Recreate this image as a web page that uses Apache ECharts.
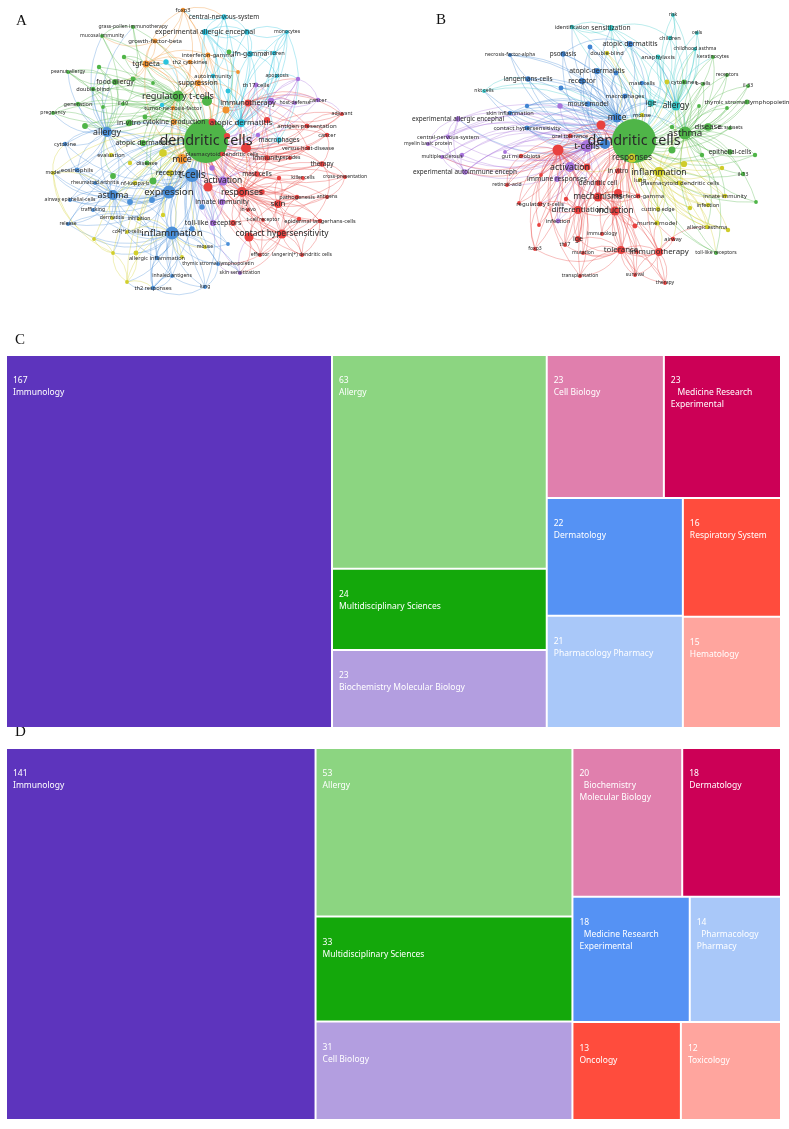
<!DOCTYPE html>
<html><head><meta charset="utf-8">
<script src="https://cdn.jsdelivr.net/npm/echarts@6/dist/echarts.min.js"></script>
<style>html,body{margin:0;padding:0;background:#fff}#c{width:789px;height:1129px}</style>
</head><body><div id="c"></div>
<script>
// ---------- Network A (keyword co-occurrence map) ----------
const A_COLORS = {r:'#e8413f', g:'#4fb548', b:'#4a8fd8', y:'#d2cf2c', p:'#a66fdc', c:'#2cc3dd', o:'#f0912f'};
// [id, label, mapX, mapY, occurrences, cluster]
const A_NODES = [
['dc','dendritic cells',206,141,400,'g'],['rt','regulatory t-cells',178,96,25,'g'],['tc','t-cells',192,175,40,'b'],
['ex','expression',169,192,35,'b'],['inf','inflammation',172,233,35,'b'],['as','asthma',113,195,21,'b'],
['al','allergy',107,132,21,'b'],['mi','mice',182,159,21,'o'],['re','responses',242,192,21,'r'],
['imth','immunotherapy',248,103,10,'r'],['ad','atopic dermatitis',241,123,13,'c'],['ac','activation',223,181,17,'p'],
['ch','contact hypersensitivity',282,234,17,'r'],['r2','',249,237,17,'r'],['imm','immunity',267,158,6,'r'],
['sk','skin',278,204,13,'r'],['tgf','tgf-beta',146,64,10,'o'],['fox','foxp3',183,10,4,'o'],
['gfb','growth-factor-beta',155,41,5,'o'],['ifn','interferon-gamma',208,55,5,'o'],['th2c','th2 cytokines',190,62,4,'o'],
['sup','suppression',198,83,8,'o'],['cp','cytokine production',174,122,7,'o'],['tnf','tumor-necrosis-factor',173,108,4,'o'],
['o1','',226,110,10,'o'],['o2','',238,72,3,'o'],['cns','central-nervous-system',224,17,6,'c'],
['eae','experimental allergic encephal',205,32,8,'c'],['c1','',247,32,6,'c'],['mono','monocytes',287,32,3,'c'],
['ifng','ifn-gamma',250,54,7,'c'],['chil','children',274,53,4,'c'],['auto','autoimmunity',213,76,4,'c'],
['apo','apoptosis',277,76,3,'c'],['c2','',166,62,6,'c'],['c3','',162,105,4,'c'],['c4','',228,91,5,'c'],
['mac','macrophages',279,140,6,'c'],['p1','',298,79,4,'p'],['th17','th17 cells',256,85,5,'p'],
['p2','',271,101,9,'p'],['hd','host-defense',295,103,3,'p'],['canp','cancer',318,100,4,'p'],
['adj','adjuvant',342,114,3,'r'],['ap','antigen presentation',307,126,5,'r'],['can','cancer',327,135,4,'r'],
['gvhd','versus-host-disease',308,148,4,'r'],['pdc','plasmacytoid dendritic cells',222,154,4,'r'],['r1','',246,148,21,'r'],
['pep','peptides',290,158,3,'r'],['thr','therapy',322,164,6,'r'],['mast','mast cells',257,174,6,'r'],
['r3','',279,178,4,'r'],['nk','killer cells',303,178,3,'r'],['cpr','cross-presentation',345,177,3,'r'],
['p3','',212,168,6,'p'],['r4','',208,187,17,'r'],['r5','',262,192,6,'r'],
['inn','innate immunity',222,202,8,'p'],['path','pathogenesis',297,197,4,'r'],['antg','antigens',327,197,3,'r'],
['b1','',202,207,6,'b'],['iv','in-vivo',248,210,3,'r'],['tcr','t-cell receptor',263,220,3,'r'],
['tlr','toll-like receptors',213,223,8,'p'],['r6','',233,223,7,'r'],['elc','epidermal langerhans-cells',320,221,4,'r'],
['r7','',299,219,4,'r'],['b2','',192,229,6,'b'],['mouse','mouse',205,247,3,'y'],
['b3','',228,244,3,'b'],['eff','effector',260,255,3,'r'],['ldc','langerin(+) dendritic cells',302,255,3,'r'],
['tslp','thymic stromal lymphopoietin',218,264,3,'b'],['ss','skin sensitization',240,273,3,'p'],['lung','lung',205,287,3,'b'],
['th2r','th2 responses',153,288,4,'b'],['inh','inhaled antigens',172,276,3,'b'],['y1','',127,282,3,'y'],
['ai','allergic inflammation',157,258,4,'b'],['y2','',182,257,3,'y'],['y3','',136,253,5,'y'],
['y4','',113,253,3,'y'],['y5','',94,239,3,'y'],['cd4','cd4(+) t-cells',127,232,3,'y'],
['inhb','inhibition',139,219,3,'y'],['derm','dermatitis',112,218,3,'y'],['rel','release',68,224,3,'b'],
['traf','trafficking',93,210,3,'b'],['aec','airway epithelial-cells',70,200,3,'b'],['b4','',130,202,7,'b'],
['b5','',152,200,7,'b'],['y6','',163,215,4,'y'],['ra','rheumatoid arthritis',95,183,3,'b'],
['nfkb','nf-kappa-b',135,183,4,'y'],['g1','',153,181,10,'g'],['rec','receptor',170,173,9,'y'],
['g2','',113,176,7,'g'],['eos','eosinophils',77,170,5,'b'],['model','model',53,173,3,'y'],
['dis','disease',147,163,5,'g'],['y7','',130,163,4,'y'],['eval','evaluation',111,155,4,'y'],
['y8','',163,153,12,'y'],['cyt','cytokine',65,144,4,'b'],['adg','atopic dermatitis',143,143,8,'g'],
['ivv','in-vitro',129,123,9,'g'],['g3','',85,126,7,'g'],['g4','',145,117,5,'g'],
['preg','pregnancy',53,113,3,'g'],['gen','generation',78,104,4,'g'],['g5','',103,107,3,'g'],
['il10','il-10',123,104,3,'g'],['db','double-blind',93,89,4,'g'],['fa','food allergy',115,82,7,'g'],
['g6','',133,79,5,'g'],['g7','',153,83,3,'g'],['pa','peanut allergy',68,72,3,'g'],
['g8','',99,67,4,'g'],['g9','',124,57,4,'g'],['mim','mucosal immunity',102,36,3,'g'],
['gpi','grass-pollen immunotherapy',133,27,3,'g'],['g10','',207,101,21,'g'],['g11','',229,52,5,'g'],
['r8','',212,122,10,'r'],['r9','',267,120,8,'r'],['r10','',227,136,8,'r'],['p4','',258,135,4,'p']
];
const A_LINKS = [
'rt:dc,tgf,sup,fa,al,adg,ivv,g10,il10,g4,cp,tc,ex,g1,db,gen,pa,preg,g3,g8,g9,mim,gpi,as','tc:dc,ex,inf,as,al,ac,re,mi,b1,b2,b4,b5,tlr,rec,g1,eos,cyt,tslp,lung,aec,rel,traf,ai,th2r',
'ex:dc,inf,as,al,tc,mi,rec,nfkb,b4,b5,g1,y8,ra,eos,model,derm,cd4','inf:dc,tc,ex,as,ai,th2r,inh,lung,tslp,b2,b3,derm,cd4,inhb,rel,traf,y3,y1,y4,y5,ss,mouse',
'as:dc,al,tc,ex,inf,eos,aec,traf,rel,cyt,ra,model,g2,b4,ai,y4,y5,derm','al:dc,as,tc,ex,fa,pa,db,g3,cyt,eos,g8,adg,preg,mim,gpi,gen,g5,il10,model',
'mi:dc,tc,ex,rt,tgf,sup,cp,o1,y8,rec,re,ac','re:dc,ac,sk,ch,r2,imm,mast,r5,path,iv,tcr,r4,r6,inn,thr,pdc,elc,antg,cpr,nk,eff,ldc,gvhd',
'imth:dc,r1,ad,imm,p2,hd,ap,adj,r9,sup,g10,o1,canp,p1,th17,gvhd','ad:dc,imth,c4,mac,auto,ifng,chil,apo,c1,r1,mono,eae,cns',
'ac:dc,tc,re,inn,tlr,p3,r4,p4,mast,p2,th17,p1','ch:dc,sk,r2,elc,ldc,eff,r7,path,antg,iv,tcr,re,ss,tslp','r2:dc,ch,sk,r6,eff,ss,re',
'imm:dc,r1,re,gvhd,pep,thr,r9','sk:dc,ch,r2,elc,path,re,r3,nk','tgf:dc,rt,fox,gfb,th2c,sup,g9,g6,fa,c2,ifn',
'fox:dc,tgf,gfb,rt,sup,cns','gfb:dc,tgf,rt,mim','ifn:dc,sup,th2c,o2,rt','th2c:dc,tgf,rt','sup:dc,rt,tgf,cp,o1,imth',
'cp:dc,rt,mi,tnf','tnf:dc,rt','o1:dc,imth,sup,re','o2:dc,ifn','cns:dc,eae,fox,c1,auto','eae:dc,cns,c1,ifng,auto,c4,ad',
'c1:dc,eae,mono,ifng','mono:dc,c1,chil,ad,mac','ifng:dc,ad,chil,eae,apo','chil:dc,ad,mono,apo','auto:dc,ad,eae',
'apo:dc,p1,ad','c2:dc,tgf,rt','c3:dc,rt','c4:dc,ad','mac:dc,ad,mono','p1:dc,p2,ac,canp','th17:dc,ac,p2',
'p2:dc,ac,imth,hd,canp,p1','hd:dc,p2','canp:dc,p2,adj','adj:dc,imth,ap','ap:dc,imth,r1,adj,can','can:dc,r1,thr',
'gvhd:dc,r1,imm','pdc:dc,r1,re','r1:dc,imth,re,imm,ap,can,thr,adj,mast','pep:dc,imm','thr:dc,r1,re,cpr,antg',
'mast:dc,re,r1','r3:dc,re,sk','nk:dc,re','cpr:dc,thr,antg,re','p3:dc,ac','r4:dc,re,tc,ac','r5:dc,re','inn:dc,ac,tlr',
'path:dc,sk,re','antg:dc,re,ch','b1:dc,tc','iv:dc,re','tcr:dc,re','tlr:dc,ac,inn,tc','r6:dc,re,ch','elc:dc,ch,sk,ldc',
'r7:dc,ch','b2:dc,inf,tc','mouse:dc,inf','b3:dc,inf','eff:dc,ch,r2','ldc:dc,ch,elc','tslp:dc,inf,ss,lung','ss:dc,tslp,r2',
'lung:dc,inf,th2r,ai','th2r:dc,inf,ai,inh,y1','inh:dc,inf,th2r','y1:dc,inf,th2r,y4','ai:dc,inf,as','y2:dc,inf','y3:dc,inf,y1',
'y4:dc,y1,y5,model','y5:dc,model,y4','cd4:dc,inf','inhb:dc,inf','derm:dc,as','rel:dc,as,inf','traf:dc,as','aec:dc,as',
'b4:dc,as','b5:dc,ex','y6:dc,ex','ra:dc,as','nfkb:dc,ex','g1:dc,rt','rec:dc,ex','g2:dc,al','eos:dc,as,al','model:dc,as,cyt',
'dis:dc,rt','y7:dc','eval:dc,al','y8:dc,mi','cyt:dc,al','adg:dc,al,rt','ivv:dc,rt','g3:dc,al','g4:dc,rt','preg:dc,al,gen',
'gen:dc,rt','g5:dc','il10:dc,rt','db:dc,fa,al','fa:dc,al,pa,rt','g6:dc,rt','g7:dc','pa:dc,fa,al','g8:dc,al','g9:dc,tgf',
'mim:dc,al,gpi','gpi:dc,al','g10:dc,rt','g11:dc','r8:dc','r9:dc','r10:dc','p4:dc'
];

// ---------- Network B ----------
const B_COLORS = {r:'#e8413f', g:'#4fb548', b:'#3f84d2', y:'#cfcc2a', p:'#a874dc', c:'#36c6c6'};
const B_NODES = [
['dc','dendritic cells',634,141,400,'g'],['tc','t-cells',587,146,30,'p'],['r1','',558,150,25,'r'],
['mice','mice',617,118,17,'b'],['tb','',605,144,21,'b'],['r2','',601,125,17,'r'],
['as','asthma',685,133,35,'g'],['al','allergy',676,106,17,'c'],['ige','ige',651,103,10,'c'],
['resp','responses',632,158,17,'y'],['infl','inflammation',659,172,21,'y'],['act','activation',570,167,21,'p'],
['r3','',587,167,10,'r'],['mech','mechanisms',598,197,17,'r'],['ind','induction',615,211,17,'r'],
['r4','',618,193,13,'r'],['diff','differentiation',578,210,13,'r'],['tol','tolerance',621,250,13,'r'],
['imth','immunotherapy',659,252,13,'r'],['dcr','dendritic cell',598,183,6,'r'],['iv','in vitro',618,171,6,'r'],
['ifng','interferon-gamma',638,196,5,'r'],['pdc','plasmacytoid dendritic cells',680,183,5,'y'],['lung','lung',640,180,4,'y'],
['y1','',684,164,8,'y'],['y2','',722,168,4,'y'],['ii','innate immunity',725,196,4,'y'],
['infc','infection',708,205,4,'y'],['ce','cutting edge',658,209,4,'y'],['y3','',690,208,4,'y'],
['mm','murine model',657,223,5,'y'],['aa','allergic asthma',707,227,4,'y'],['y4','',728,230,4,'y'],
['r5','',635,226,5,'r'],['imnl','immunology',602,234,3,'r'],['airw','airway',673,239,4,'r'],
['r6','',637,252,3,'r'],['tlr','toll-like receptors',716,253,3,'g'],['surv','survival',635,275,3,'r'],
['ther','therapy',665,283,3,'r'],['tx','transplantation',580,276,3,'r'],['mut','mutation',583,253,3,'r'],
['th17','th17',565,245,3,'r'],['fox','foxp3',535,249,3,'r'],['igr','ige',578,239,8,'r'],
['r7','',539,225,3,'r'],['infp','infection',558,221,5,'p'],['treg','regulatory t-cells',540,204,5,'r'],
['r8','',519,203,3,'r'],['r9','',566,199,4,'r'],['ra','retinoic-acid',507,185,3,'r'],
['imr','immune responses',557,179,7,'p'],['r10','',541,175,3,'r'],['eaen','experimental autoimmune enceph',465,172,6,'p'],
['gut','gut microbiota',521,156,4,'r'],['p1','',505,152,3,'p'],['ms','multiple sclerosis',442,157,3,'p'],
['p2','',462,155,4,'p'],['mbp','myelin basic protein',428,144,3,'p'],['cns','central-nervous-system',448,137,4,'p'],
['eae','experimental allergic encephal',458,119,6,'p'],['ot','oral tolerance',570,136,4,'r'],['chs','contact hypersensitivity',527,128,5,'b'],
['si','skin inflammation',510,113,4,'b'],['b1','',527,106,4,'b'],['p3','',560,106,6,'p'],
['mmod','mouse model',588,104,6,'b'],['nkt','nkt cells',484,91,3,'c'],['b2','',561,88,5,'b'],
['lc','langerhans-cells',528,79,6,'b'],['rec','receptor',582,81,8,'b'],['ps','psoriasis',563,54,6,'b'],
['tnfa','necrosis-factor-alpha',510,55,3,'b'],['id','identification',572,27,4,'c'],['sens','sensitization',611,28,7,'c'],
['risk','risk',673,15,3,'c'],['cells','cells',697,33,3,'c'],['child','children',670,38,4,'c'],
['b3','',590,47,5,'b'],['adb','atopic dermatitis',630,44,8,'b'],['cha','childhood asthma',695,49,3,'c'],
['db','double-blind',607,53,4,'y'],['ana','anaphylaxis',658,57,5,'c'],['ker','keratinocytes',713,57,3,'g'],
['ad2','atopic-dermatitis',597,71,8,'b'],['b4','',616,73,5,'b'],['mast','mast cells',642,83,4,'b'],
['y5','',667,82,5,'y'],['cyt','cytokines',684,82,5,'g'],['bc','b-cells',703,84,3,'g'],
['recs','receptors',727,75,3,'g'],['il33','il-33',748,86,3,'g'],['mac','macrophages',625,96,5,'b'],
['tslp','thymic stromal lymphopoietin',747,102,5,'g'],['g1','',699,106,3,'g'],['g2','',727,108,3,'g'],
['mouse','mouse',642,115,4,'y'],['g3','',672,127,4,'g'],['dis','disease',708,127,12,'g'],
['dcs','dc subsets',730,128,3,'g'],['g4','',672,150,10,'g'],['epi','epithelial-cells',730,152,6,'g'],
['g5','',755,155,4,'g'],['g6','',702,155,4,'g'],['il13','il-13',743,174,4,'g'],['g7','',756,202,3,'g']
];
const B_LINKS = [
'tc:dc,act,r1,r3,imr,mech,diff,eaen,eae,cns,mbp,ms,p1,p2,infp,p3,chs,tb,mice,gut,ra,treg','r1:dc,tc,act,r3,mech,diff,treg,ra,gut,ot,r8,r10,th17,fox,r7,ind,tol,tx,mut,eaen,ms,igr,surv',
'mice:dc,tb,r2,as,al,ige,mmod,rec,ad2,mac,lc,chs,si,b1,b2,b4,ps,adb,nkt,tnfa,sens,id,b3,db','tb:dc,mice,tc,mmod,rec,lc,chs,si,tnfa,ad2,b3,ps,nkt,eae',
'r2:dc,mice,r1,ot,mech,ind,tol','as:dc,al,ige,infl,dis,g4,epi,tslp,il33,cyt,bc,recs,ker,il13,g3,g6,dcs,tlr,g1,g2,g5,g7,ii,aa,cha',
'al:dc,as,ige,sens,child,ana,cells,risk,cha,id,adb,mast,ker,cyt','ige:dc,al,as,sens,ana,mast,mice','resp:dc,infl,mech,ind,act,lung,pdc,y1,ce,mm',
'infl:dc,resp,as,pdc,y1,y2,ii,infc,y3,aa,y4,mm,ce,lung,airw,tlr','act:dc,tc,r1,imr,mech,r3,diff','r3:dc,r1,act',
'mech:dc,r1,ind,diff,tol,dcr,iv,ifng,r4,r5','ind:dc,mech,tol,imth,diff,r4,imnl,r6,surv,ther','r4:dc,ind,mech',
'diff:dc,r1,treg,mech,infp,r9,th17,igr','tol:dc,ind,imth,surv,tx,mut,r6,igr,fox,th17,ther','imth:dc,tol,airw,ther,surv,mm,r6,infl,aa',
'dcr:dc,mech','iv:dc,mech','ifng:dc,mech,resp','pdc:dc,infl,resp','lung:dc,infl','y1:dc,infl','y2:dc,infl','ii:dc,infl,as',
'infc:dc,infl','ce:dc,infl','y3:dc,infl','mm:dc,infl,imth','aa:dc,infl,as','y4:dc,infl','r5:dc,ind','imnl:dc,ind','airw:dc,imth',
'r6:dc,tol','tlr:dc,as,infl','surv:dc,tol,imth','ther:dc,imth,tol','tx:dc,tol,r1','mut:dc,tol','th17:dc,diff,r1','fox:dc,r1,treg',
'igr:dc,tol,diff','r7:dc,r1','infp:dc,tc','treg:dc,r1,diff','r8:dc,r1','r9:dc,diff','ra:dc,r1,gut','imr:dc,tc,act','r10:dc,r1',
'eaen:dc,tc,eae,ms,p2,cns,r1','gut:dc,r1','p1:dc,tc','ms:dc,tc,eaen','p2:dc,tc','mbp:dc,tc,eae','cns:dc,tc,eae','eae:dc,tc,cns',
'ot:dc,r1,r2','chs:dc,tb,mice','si:dc,tb,mice','b1:dc,mice','p3:dc,tc','mmod:dc,mice','nkt:dc,lc,mice','b2:dc,mice','lc:dc,mice,tb',
'rec:dc,mice','ps:dc,mice,adb','tnfa:dc,mice','id:dc,sens,al','sens:dc,al,ige,id,child','risk:dc,al,child','cells:dc,al','child:dc,al',
'b3:dc,mice','adb:dc,mice,al','cha:dc,al','db:dc,mice','ana:dc,al,ige','ker:dc,as','ad2:dc,mice','b4:dc,mice','mast:dc,mice,al',
'y5:dc,infl','cyt:dc,as','bc:dc,as','recs:dc,as','il33:dc,as','mac:dc,mice','tslp:dc,as','g1:dc,as','g2:dc,as','mouse:dc,mice',
'g3:dc,as','dis:dc,as','dcs:dc,as','g4:dc,as','epi:dc,as','g5:dc,as','g6:dc,as','il13:dc,as','g7:dc,as'
];

// ---------- Treemap C ----------
const C_CATEGORIES = ['Immunology','Allergy','Multidisciplinary Sciences','Biochemistry Molecular Biology','Cell Biology',
  'Medicine Research Experimental','Dermatology','Pharmacology Pharmacy','Respiratory System','Hematology'];
const C_VALUES = [167,63,24,23,23,23,22,21,16,15];
const C_LABELS = ['Immunology','Allergy','Multidisciplinary Sciences','Biochemistry Molecular Biology','Cell Biology',
  '   Medicine Research\nExperimental','Dermatology','Pharmacology Pharmacy','Respiratory System','Hematology'];
// ---------- Treemap D ----------
const D_CATEGORIES = ['Immunology','Allergy','Multidisciplinary Sciences','Cell Biology','Biochemistry Molecular Biology',
  'Dermatology','Medicine Research Experimental','Pharmacology Pharmacy','Oncology','Toxicology'];
const D_VALUES = [141,53,33,31,20,18,18,14,13,12];
const D_LABELS = ['Immunology','Allergy','Multidisciplinary Sciences','Cell Biology','  Biochemistry\nMolecular Biology',
  'Dermatology','  Medicine Research\nExperimental','  Pharmacology\nPharmacy','Oncology','Toxicology'];
const TREEMAP_PALETTE = ['#5d34bd','#8cd581','#14a80b','#b39ee0','#e07fad','#cc0056','#5592f4','#a9c8f9','#ff4c3d','#ffa59e'];

function hexA(hex, a) {
  const n = parseInt(hex.slice(1), 16);
  return 'rgba(' + (n >> 16 & 255) + ',' + (n >> 8 & 255) + ',' + (n & 255) + ',' + a + ')';
}
function buildGraph(nodes, links, colors) {
  const byId = {};
  nodes.forEach(n => { byId[n[0]] = n; });
  const data = nodes.map(([id, label, x, y, w, cl]) => ({
    name: id, value: [x, y], symbolSize: 2.2 * Math.sqrt(w),
    itemStyle: { color: colors[cl] },
    label: { show: !!label, formatter: label || ' ', fontSize: Math.max(5, 3 + 1.9 * Math.log(w)) }
  }));
  const linkData = [];
  links.forEach(s => {
    const [src, tg] = s.split(':');
    tg.split(',').forEach(t => {
      if (byId[src] && byId[t] && src !== t)
        linkData.push({ source: src, target: t, lineStyle: { color: hexA(colors[byId[src][5]], 0.45) } });
    });
  });
  return {
    type: 'graph', layout: 'none', coordinateSystem: 'cartesian2d', xAxisIndex: 0, yAxisIndex: 0,
    silent: true, animation: false, roam: false, data, links: linkData,
    label: { show: true, position: 'inside', color: '#2a2a2a', fontFamily: 'Noto Sans' },
    lineStyle: { opacity: 1, width: 0.75, curveness: 0.28 },
    emphasis: { disabled: true }
  };
}
function buildTreemap(cats, vals, labels, top, height) {
  return {
    type: 'treemap', left: 7, top: top, width: 773, height: height,
    sort: false, roam: false, nodeClick: false, silent: true, animation: false,
    breadcrumb: { show: false },
    itemStyle: { borderWidth: 0, gapWidth: 2, borderColor: '#fff' },
    levels: [{ itemStyle: { borderWidth: 0, gapWidth: 2 } }],
    upperLabel: { show: false },
    label: { show: true, position: [1, 14], color: '#fff', fontSize: 8.5, lineHeight: 12, fontFamily: 'Noto Sans',
      formatter: p => p.value + '\n' + labels[cats.indexOf(p.name)] },
    data: cats.map((c, i) => ({ name: c, value: vals[i], itemStyle: { color: TREEMAP_PALETTE[i] } }))
  };
}

const chart = echarts.init(document.getElementById('c'), null, { renderer: 'canvas' });
const letter = (t, x, y) => ({ type: 'text', left: x, top: y, style: { text: t, font: '15px "Liberation Serif"', fill: '#111' } });
chart.setOption({
  animation: false,
  grid: { left: 0, top: 0, width: 789, height: 300 },
  xAxis: { type: 'value', min: 0, max: 789, show: false },
  yAxis: { type: 'value', min: 0, max: 300, inverse: true, show: false },
  graphic: [letter('A', 16, 14), letter('B', 436, 13), letter('C', 15, 333), letter('D', 15, 725)],
  series: [
    buildGraph(A_NODES, A_LINKS, A_COLORS),
    buildGraph(B_NODES, B_LINKS, B_COLORS),
    buildTreemap(C_CATEGORIES, C_VALUES, C_LABELS, 356, 371),
    buildTreemap(D_CATEGORIES, D_VALUES, D_LABELS, 749, 370)
  ]
});
</script></body></html>
